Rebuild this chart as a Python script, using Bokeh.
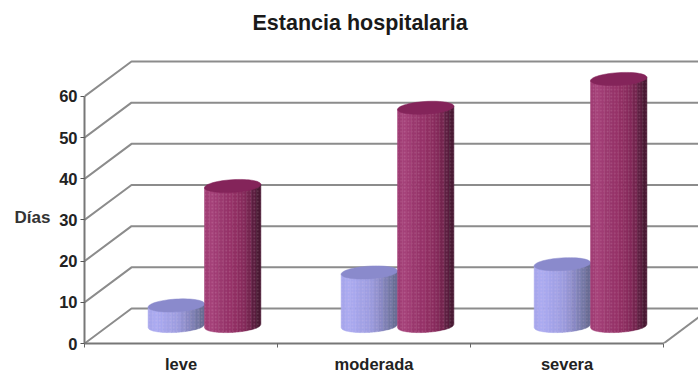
import numpy as np
from bokeh.embed import file_html
from bokeh.models import ColumnDataSource, FixedTicker, LinearAxis, Range1d
from bokeh.plotting import figure
from bokeh.resources import INLINE

# Length of stay by severity, two series per category
categories = ["leve", "moderada", "severa"]
series_a = [5, 13, 15]
series_b = [34, 53, 60]
y_ticks = [0, 10, 20, 30, 40, 50, 60]

# Facet shades, left to right around each cylinder
shades_a = ["#a6a6ec", "#aaaaf0", "#a8a8ee", "#a4a4ea", "#a2a2e6", "#9e9ee2", "#9a9adc",
            "#9292d0", "#8888c4", "#7e80b4", "#7276a4", "#686c94"]
shades_b = ["#a03c74", "#a44078", "#a03c74", "#9a386e", "#96346a", "#963268", "#902e62",
            "#8a2c5e", "#822858", "#74244e", "#5c1e40", "#481832"]
top_a = "#8a8acc"
top_b = "#84245a"

# Oblique projection of the chart floor, expressed in axis units
DEPTH_X = 0.2435
DEPTH_Y = 8.5
BAR_W = 0.292
ELL_H = 1.55
TILT = 0.4
GRID = "#8c8c8c"

p = figure(width=698, height=375, output_backend="svg", toolbar_location=None,
           x_range=Range1d(0, 3.181), y_range=Range1d(0, 73.6),
           min_border_left=84, min_border_right=0, min_border_top=40, min_border_bottom=32,
           outline_line_color=None, background_fill_color="white", border_fill_color="white")

p.title.text = "Estancia hospitalaria"
p.title.text_font = "Liberation Sans"
p.title.text_font_size = "21.5px"
p.title.text_color = "#1a1a1a"
p.title.align = "left"
p.title.offset = 168
p.title.standoff = 12

p.grid.visible = False

# Walls: back gridlines, diagonal floor and side lines
xs, ys = [], []
for t in y_ticks:
    xs.append([0, DEPTH_X, 3.181])
    ys.append([t, t + DEPTH_Y, t + DEPTH_Y])
xs.append([3, 3 + DEPTH_X])
ys.append([0, DEPTH_Y])
p.multi_line(xs, ys, line_color=GRID, line_width=2)


def cylinder(left, value, colors, top_color):
    """Draw one faceted cylinder standing halfway back on the floor."""
    base = DEPTH_Y / 2
    top = base + value
    n = len(colors)
    edges = np.linspace(-1, 1, n + 1)
    fx, fy = [], []
    for i in range(n):
        u = np.linspace(edges[i], edges[i + 1], 6)
        low = base - ELL_H * np.sqrt(1 - u ** 2) + TILT * u
        x = left + (u + 1) / 2 * BAR_W
        fx.append(np.r_[x, x[::-1]])
        fy.append(np.r_[low, (top + TILT * u)[::-1]])
    src = ColumnDataSource(dict(x=fx, y=fy, c=colors))
    p.patches("x", "y", source=src, fill_color="c", line_color="c", line_width=0.5,
              hatch_pattern="dot", hatch_color="#ffd8ec", hatch_alpha=0.2, hatch_scale=3.5)
    a = np.linspace(0, 2 * np.pi, 60)
    p.patch(left + (np.cos(a) + 1) / 2 * BAR_W,
            top + ELL_H * np.sin(a) + TILT * np.cos(a),
            fill_color=top_color, line_color=top_color, line_width=0.5)


for i, (va, vb) in enumerate(zip(series_a, series_b)):
    seam = i + 0.5 + DEPTH_X / 2
    cylinder(seam - BAR_W, va, shades_a, top_a)
    cylinder(seam, vb, shades_b, top_b)

x_ax = p.xaxis[0]
x_ax.ticker = FixedTicker(ticks=[i + 0.5 for i in range(len(categories))], minor_ticks=[0, 1, 2, 3])
x_ax.major_label_overrides = {i + 0.5: c for i, c in enumerate(categories)}
x_ax.bounds = (0, 3)
x_ax.major_tick_line_color = None
x_ax.minor_tick_out = 4
x_ax.minor_tick_in = 0
x_ax.minor_tick_line_color = "#666666"
x_ax.axis_line_color = "#777777"
x_ax.axis_line_width = 2
x_ax.major_label_text_font = "Liberation Sans"
x_ax.major_label_text_font_style = "bold"
x_ax.major_label_text_font_size = "16.5px"
x_ax.major_label_text_color = "#222222"
x_ax.major_label_standoff = 5

y_ax = p.yaxis[0]
y_ax.ticker = FixedTicker(ticks=y_ticks, minor_ticks=[])
y_ax.bounds = (0, 60)
y_ax.major_tick_out = 4
y_ax.major_tick_in = 0
y_ax.major_tick_line_color = "#555555"
y_ax.axis_line_color = "#777777"
y_ax.axis_line_width = 2
y_ax.major_label_text_font = "Liberation Sans"
y_ax.major_label_text_font_style = "bold"
y_ax.major_label_text_font_size = "16.5px"
y_ax.major_label_text_color = "#222222"
y_ax.major_label_standoff = 3

# Horizontal unit caption: an outer left axis with one labelled position beside the 30 tick
unit_ax = LinearAxis(ticker=FixedTicker(ticks=[30.6], minor_ticks=[]),
                     major_label_overrides={30.6: "Días"},
                     axis_line_color=None, major_tick_line_color=None, minor_tick_line_color=None,
                     major_tick_out=0, major_tick_in=0, minor_tick_out=0, minor_tick_in=0,
                     major_label_standoff=6,
                     major_label_text_font="Liberation Sans", major_label_text_font_style="bold",
                     major_label_text_font_size="17px", major_label_text_color="#333333")
p.add_layout(unit_ax, "left")

open("out.html", "w").write(file_html(p, INLINE))
